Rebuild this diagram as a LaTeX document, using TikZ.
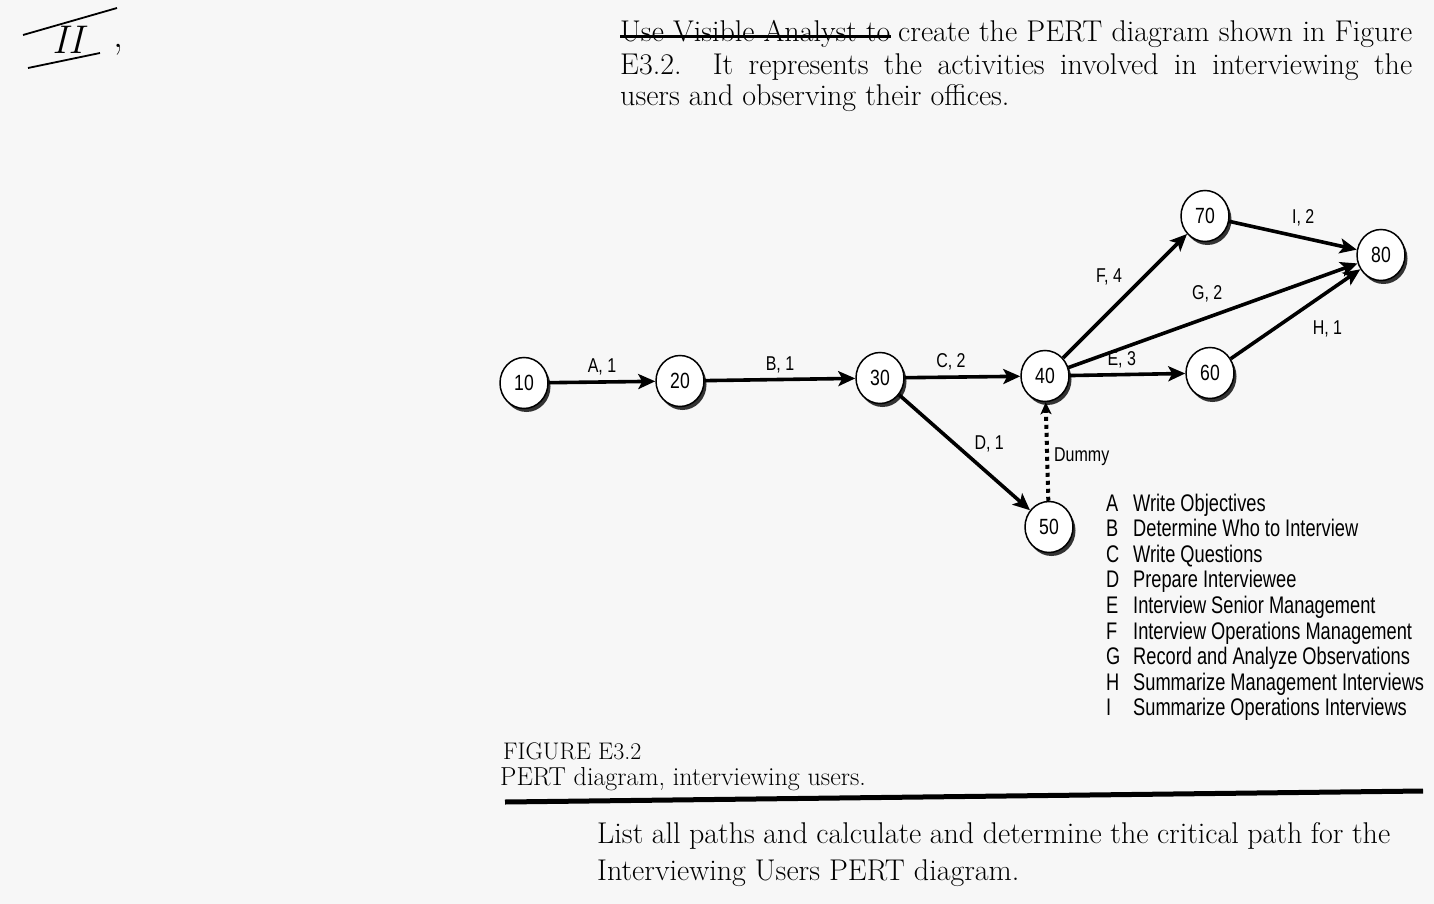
\documentclass[tikz,border=0pt]{standalone}
\usepackage{fontspec}
\newfontfamily\condsans[FakeStretch=0.8]{Liberation Sans}
\newfontfamily\legsans[FakeStretch=0.76]{Liberation Sans}
\usetikzlibrary{arrows.meta,shapes.geometric,shadows}

\tikzset{
  event/.style={ellipse, draw, line width=1.5pt, fill=white, minimum width=48pt, minimum height=51pt, inner sep=0pt,
    font=\condsans\fontsize{22}{22}\selectfont,
    drop shadow={shadow xshift=2.5pt, shadow yshift=-3.5pt, fill=black!80, opacity=1}},
  activity/.style={line width=3.6pt, -{Stealth[length=17pt,width=15pt,inset=4pt]}},
  dummyline/.style={line width=4pt, dash pattern=on 4pt off 4pt, -{Stealth[length=12pt,width=11pt,inset=3pt]}},
  act/.style={font=\condsans\fontsize{20}{20}\selectfont, inner sep=5pt},
  legend/.style={font=\legsans\fontsize{24}{24}\selectfont, anchor=base west, inner sep=0pt},
  serif/.style={font=\fontsize{30}{30}\selectfont, anchor=base west, inner sep=0pt},
  caption/.style={font=\fontsize{24}{24}\selectfont, anchor=base west, inner sep=0pt}
}

\begin{document}
\begin{tikzpicture}[x=1pt,y=-1pt]
\useasboundingbox[fill=black!3] (0,0) rectangle (1434,904);

% handwritten mark
\node[font=\fontsize{40}{40}\selectfont\itshape, inner sep=0pt, anchor=base] (roman) at (68,54) {II};
\node[font=\fontsize{40}{40}\selectfont, inner sep=0pt, anchor=base] (comma) at (118,48) {,};
\draw[line width=1.8pt] (23,35) -- (117,8);
\draw[line width=1.8pt] (28,68) -- (100,53);

% exercise text
\node[serif] (struck) at (620,42) {Use Visible Analyst to};
\draw[line width=3pt] ([yshift=-2pt]struck.west) -- ([yshift=-2pt]struck.east);
\node[serif] (line1) at (898,42) {\makebox[514pt][s]{create the PERT diagram shown in Figure}};
\node[serif] (line2) at (620,75) {\makebox[792pt][s]{E3.2. It represents the activities involved in interviewing the}};
\node[serif] (line3) at (620,106) {users and observing their offices.};

% events
\node[event] (n10) at (524,383) {10};
\node[event] (n20) at (680,381) {20};
\node[event] (n30) at (880,378) {30};
\node[event] (n40) at (1045,376) {40};
\node[event] (n50) at (1049,527) {50};
\node[event] (n60) at (1210,373) {60};
\node[event] (n70) at (1205,216) {70};
\node[event] (n80) at (1381,255) {80};

% activities
\draw[activity] (n10) -- node[act,above] {A, 1} (n20);
\draw[activity] (n20) -- node[act,above] {B, 1} (n30);
\draw[activity] (n30) -- node[act,above,pos=0.4] {C, 2} (n40);
\draw[activity] (n30) -- node[act,above right,pos=0.54,inner sep=3pt] {D, 1} (n50);
\draw[activity] (n40) -- node[act,above,pos=0.45] {E, 3} (n60);
\draw[activity] (n40) -- node[act,above left,pos=0.53] {F, 4} (n70);
\draw[activity] (n40) -- node[act,above,pos=0.48,inner sep=14pt] {G, 2} (n80);
\draw[activity] (n60) -- node[act,below right,pos=0.55,inner sep=9pt] {H, 1} (n80);
\draw[activity] (n70) -- node[act,above,pos=0.58,inner sep=10pt] {I, 2} (n80);
\draw[dummyline] (n50) -- node[act,right,pos=0.45] {Dummy} (n40);

% legend
\foreach \k/\txt [count=\i] in {A/Write Objectives, B/Determine Who to Interview, C/Write Questions,
  D/Prepare Interviewee, E/Interview Senior Management, F/Interview Operations Management,
  G/Record and Analyze Observations, H/Summarize Management Interviews, I/Summarize Operations Interviews}
{
  \node[legend] (key\k) at (1106,{511+25.6*(\i-1)}) {\k};
  \node[legend] (desc\k) at (1133,{511+25.6*(\i-1)}) {\txt};
}

% caption
\node[caption] (figno) at (503,759) {FIGURE E3.2};
\node[caption, font=\fontsize{26}{26}\selectfont] (figtitle) at (500,785) {PERT diagram, interviewing users.};
\draw[line width=5pt] (505,802) -- (1423,791);

% question
\node[serif] (ask1) at (597,843) {\makebox[793pt][s]{List all paths and calculate and determine the critical path for the}};
\node[serif] (ask2) at (597,880) {Interviewing Users PERT diagram.};
\end{tikzpicture}
\end{document}
